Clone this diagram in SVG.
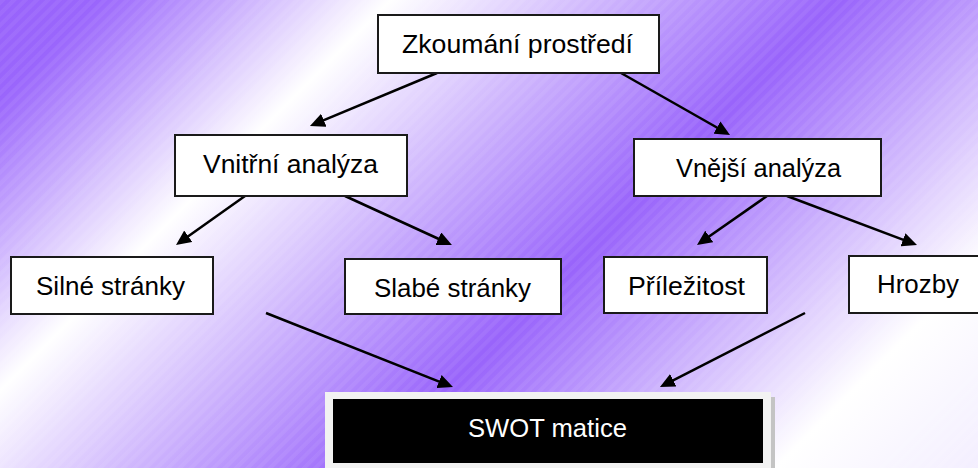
<svg xmlns="http://www.w3.org/2000/svg" width="978" height="468" viewBox="0 0 978 468">
  <defs>
    <linearGradient id="bg" gradientUnits="userSpaceOnUse" x1="0" y1="0" x2="723" y2="723">
      <stop offset="0" stop-color="#9863fb"/>
      <stop offset="0.07" stop-color="#9a66fc"/>
      <stop offset="0.27" stop-color="#ffffff"/>
      <stop offset="0.58" stop-color="#9863fb"/>
      <stop offset="0.86" stop-color="#ffffff"/>
      <stop offset="1" stop-color="#f3eeff"/>
    </linearGradient>
    <pattern id="stripes" patternUnits="userSpaceOnUse" width="8" height="8" patternTransform="rotate(45)">
      <rect x="0" y="0" width="4" height="8" fill="#ffffff" fill-opacity="0.06"/>
    </pattern>
    <marker id="arrow" markerUnits="userSpaceOnUse" markerWidth="16" markerHeight="14" refX="9" refY="7" orient="auto">
      <path d="M0,0 L15,7 L0,14 z" fill="#000"/>
    </marker>
    <style>
      .box { fill: #ffffff; stroke: #1a1a1a; stroke-width: 2; }
      .lbl { font-family: "Liberation Sans", Arial, sans-serif; font-size: 25px; fill: #000; text-anchor: middle; }
      .conn line { stroke: #000; stroke-width: 2.5; marker-end: url(#arrow); }
    </style>
  </defs>

  <rect x="0" y="0" width="978" height="468" fill="url(#bg)"/>
  <rect x="0" y="0" width="978" height="468" fill="url(#stripes)"/>

  <g id="connectors" class="conn">
    <line x1="437" y1="73" x2="315.5" y2="123.7"/>
    <line x1="621" y1="73" x2="724.8" y2="132"/>
    <line x1="245" y1="196" x2="180.9" y2="241.5"/>
    <line x1="345" y1="196" x2="446.5" y2="242.5"/>
    <line x1="767" y1="196" x2="701.9" y2="241.6"/>
    <line x1="787" y1="196" x2="911.4" y2="242.9"/>
    <line x1="266" y1="313" x2="447.4" y2="384.8"/>
    <line x1="805" y1="313" x2="665.3" y2="384.3"/>
  </g>

  <g id="zkoumani">
    <rect class="box" x="378" y="15" width="281" height="58"/>
    <text class="lbl" x="517.5" y="53" textLength="231" lengthAdjust="spacingAndGlyphs">Zkoumání prostředí</text>
  </g>
  <g id="vnitrni">
    <rect class="box" x="175" y="135" width="232" height="61"/>
    <text class="lbl" x="290.5" y="173" textLength="175" lengthAdjust="spacingAndGlyphs">Vnitřní analýza</text>
  </g>
  <g id="vnejsi">
    <rect class="box" x="634" y="139" width="247" height="57"/>
    <text class="lbl" x="758.5" y="177" textLength="165" lengthAdjust="spacingAndGlyphs">Vnější analýza</text>
  </g>
  <g id="silne">
    <rect class="box" x="11" y="257" width="202" height="57"/>
    <text class="lbl" x="110.5" y="295" textLength="149" lengthAdjust="spacingAndGlyphs">Silné stránky</text>
  </g>
  <g id="slabe">
    <rect class="box" x="345" y="259" width="216" height="55"/>
    <text class="lbl" x="452.5" y="297" textLength="157" lengthAdjust="spacingAndGlyphs">Slabé stránky</text>
  </g>
  <g id="prilezitost">
    <rect class="box" x="604" y="257" width="163" height="56"/>
    <text class="lbl" x="686.5" y="295" textLength="117" lengthAdjust="spacingAndGlyphs">Příležitost</text>
  </g>
  <g id="hrozby">
    <rect class="box" x="849" y="256" width="140" height="57"/>
    <text class="lbl" x="918" y="293" textLength="82" lengthAdjust="spacingAndGlyphs">Hrozby</text>
  </g>
  <g id="swot">
    <rect x="771" y="397" width="4" height="75" fill="#c4c4c4"/>
    <rect x="325" y="392" width="446" height="80" fill="#f2f2f2"/>
    <rect x="333" y="399" width="430" height="64" fill="#000000"/>
    <text class="lbl" x="547.5" y="437" textLength="159" lengthAdjust="spacingAndGlyphs" style="fill:#ffffff">SWOT matice</text>
  </g>
</svg>
